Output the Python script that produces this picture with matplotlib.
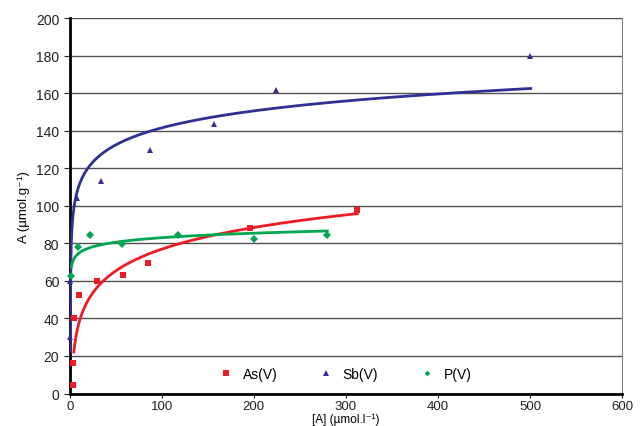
import numpy as np
import matplotlib.pyplot as plt

plt.rcParams['font.family'] = ['Liberation Sans', 'DejaVu Sans']

# Datos
as_x = [3.6, 3.6, 4.3, 9.8, 30, 58, 85, 195.6, 311.6]
as_y = [4.3, 16.4, 40.4, 52.6, 59.8, 63, 69.4, 88, 97.6]

sb_x = [0.01, 0.2, 8.3, 34.4, 87, 156.5, 224, 500]
sb_y = [30, 60, 104.4, 113.2, 129.6, 143.7, 161.5, 180]

p_x = [1.0, 9, 21.7, 56.5, 118, 200, 279]
p_y = [62.4, 78.2, 84.7, 79.8, 84.2, 82.5, 84.6]

series = [
    ("As(V)", as_x, as_y, "#ed1c24", "s"),
    ("Sb(V)", sb_x, sb_y, "#2e3192", "^"),
    ("P(V)", p_x, p_y, "#00a651", "D"),
]

fig, ax = plt.subplots(figsize=(6.4, 4.27), dpi=100)
fig.subplots_adjust(left=0.109, right=0.972, bottom=0.076, top=0.9555)

for name, x, y, col, mk in series:
    x = np.array(x)
    y = np.array(y)
    ms = 3.8 if mk == "D" else 5
    ax.plot(x, y, mk, color=col, ms=ms, mew=0, label=name, zorder=3, clip_on=False)
    # tendencia logarítmica
    b, a = np.polyfit(np.log(x), y, 1)
    xf = np.geomspace(x.min(), x.max(), 300)
    ax.plot(xf + 0.8, a + b*np.log(xf), color=col, lw=2, zorder=2.6)

ax.set_xlim(0, 600)
ax.set_ylim(0, 200)
ax.set_xticks(np.arange(0, 601, 100))
ax.set_yticks(np.arange(0, 201, 20))
ax.yaxis.grid(True, color="#505050", lw=1)
ax.set_axisbelow(True)

ax.spines["left"].set_linewidth(2)
ax.spines["bottom"].set_linewidth(2)
ax.spines["right"].set_color("#808080")
ax.spines["top"].set_visible(False)
ax.tick_params(direction="out", length=4, labelsize=10, colors="#222222")
ax.tick_params(axis="x", length=3, pad=1.5, labelsize=9.5)

# etiqueta del eje x pegada al borde inferior
fig.text(0.5 * (0.109 + 0.972), 1/427, "[A] (µmol.l⁻¹)", fontsize=8.5,
         ha="center", va="bottom")
ax.set_ylabel("A (µmol.g⁻¹)", fontsize=9.5)

ax.legend(loc="lower left", bbox_to_anchor=(0.235, 0.0), ncol=3, frameon=False,
          fontsize=10, handletextpad=0.2, columnspacing=2.5, markerscale=0.75)

fig.savefig("out.png")
